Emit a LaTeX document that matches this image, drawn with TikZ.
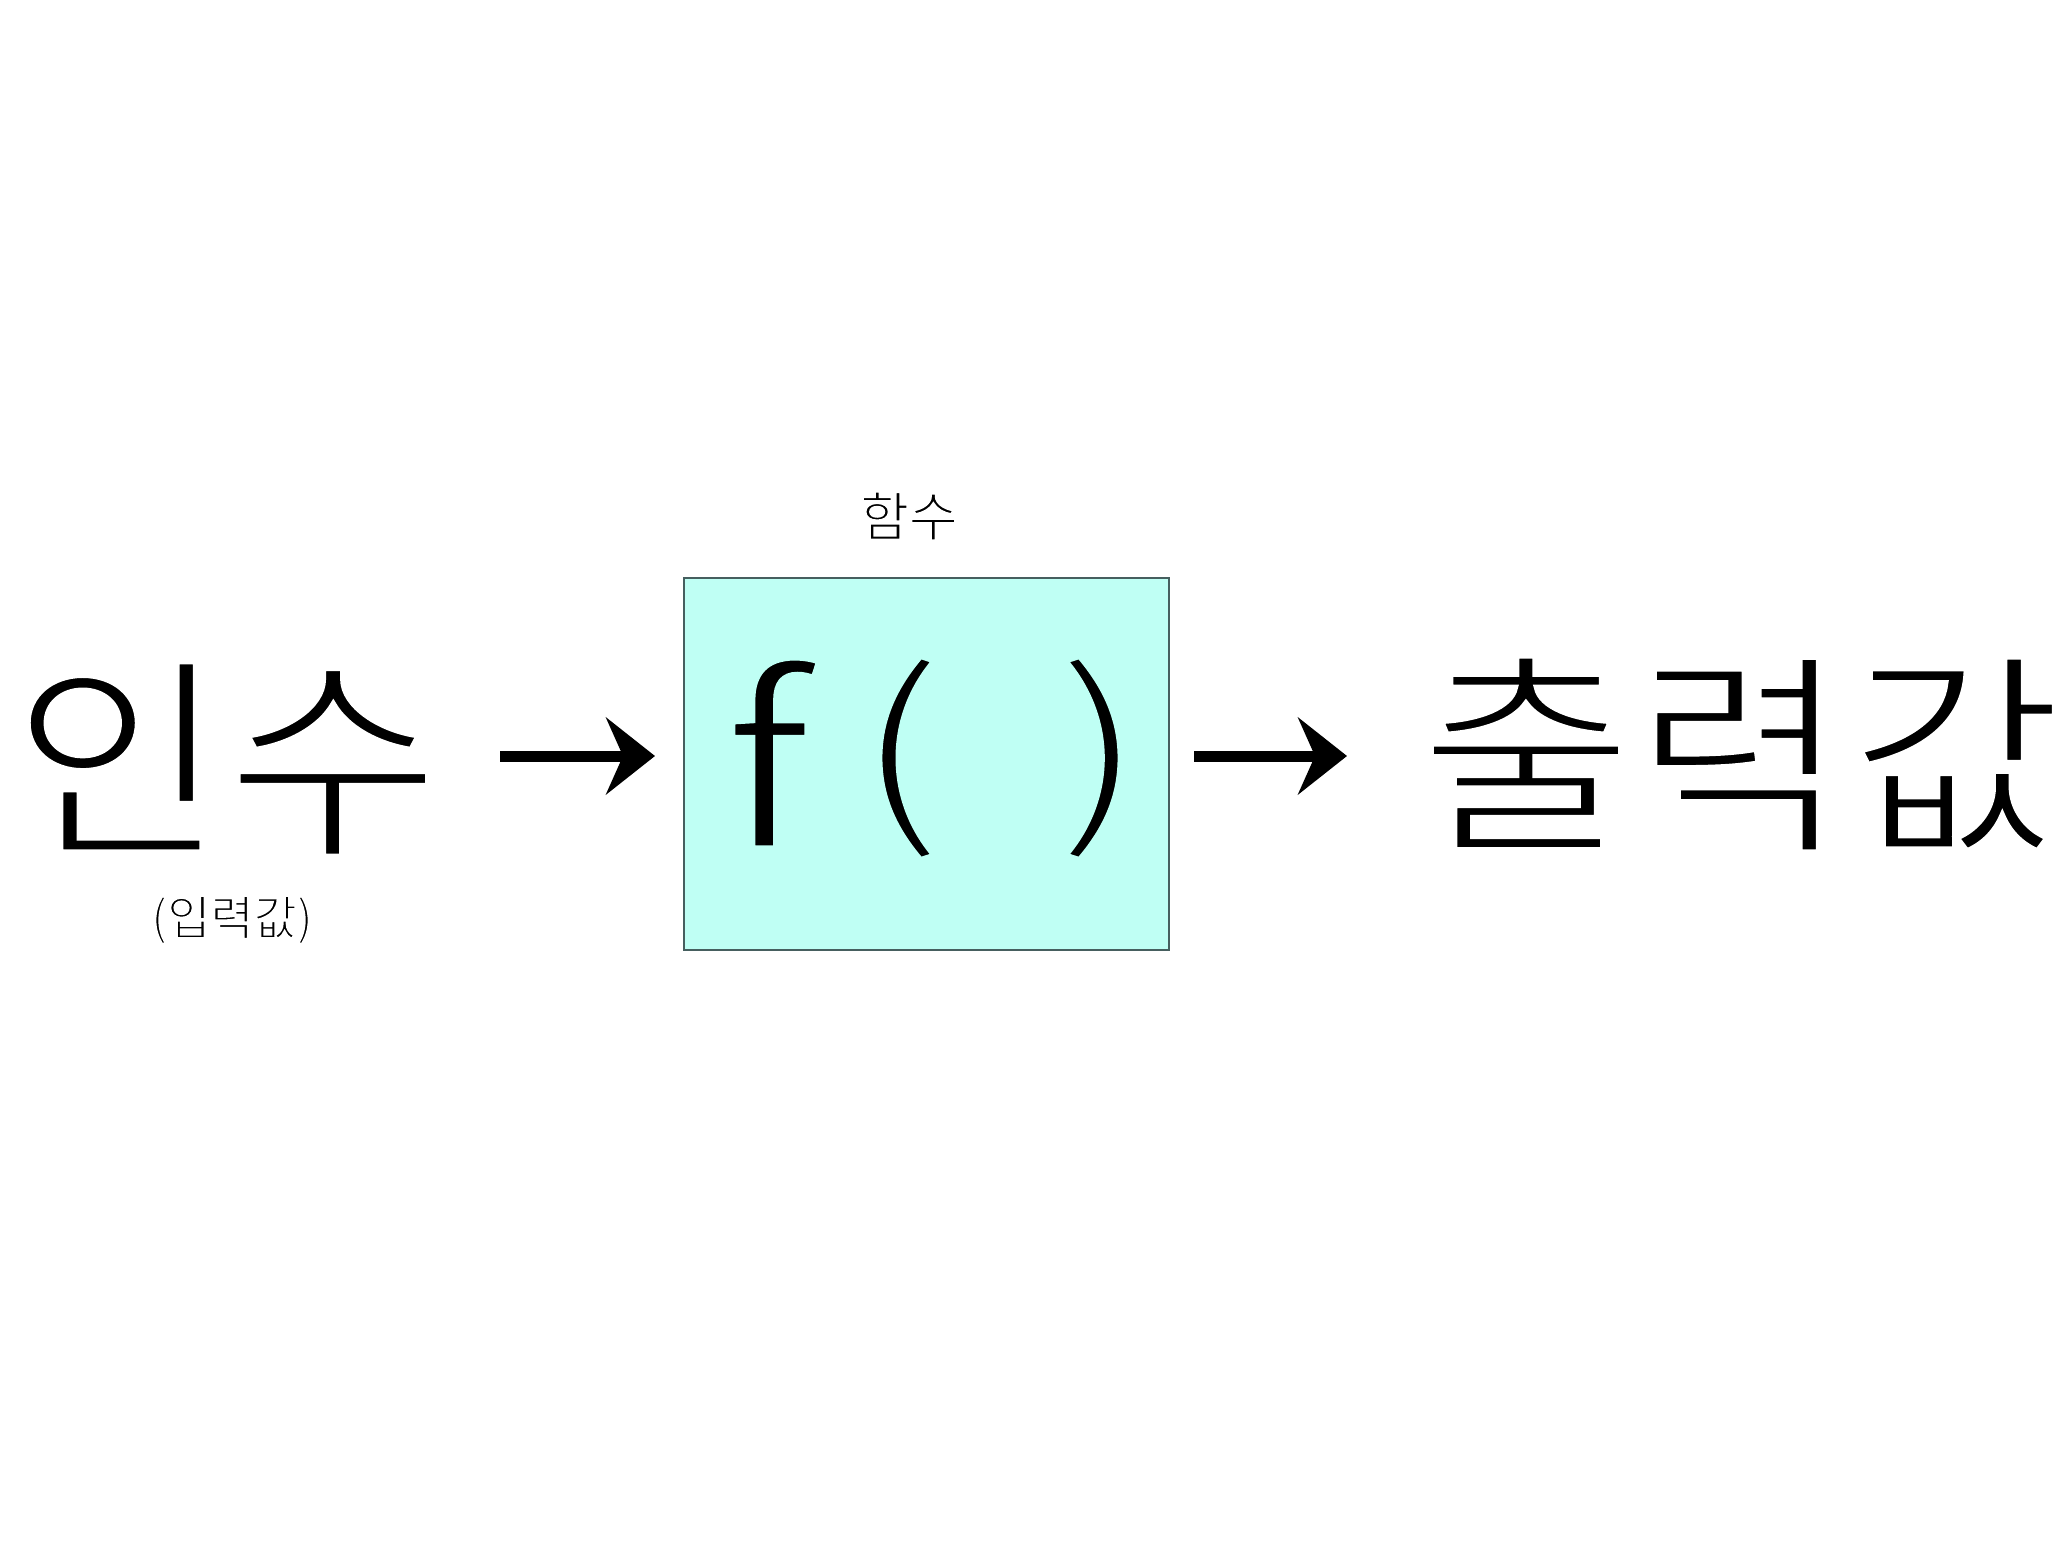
\documentclass[tikz,border=0pt]{standalone}
\usepackage{fontspec}
\setmainfont{Noto Sans CJK KR}
\newfontfamily\widekr[FakeStretch=1.08]{Noto Sans CJK KR}
\usetikzlibrary{arrows.meta}
\definecolor{boxfill}{RGB}{191,255,244}
\definecolor{boxline}{RGB}{70,95,95}
\newcommand\thinwhite[1]{\special{pdf:code q 2 Tr 1 1 1 RG 3 w}#1\special{pdf:code Q}}
\newcommand\thinwhitesmall[1]{\special{pdf:code q 2 Tr 1 1 1 RG 0.8 w}#1\special{pdf:code Q}}
\newcommand\thincyan[1]{\special{pdf:code q 2 Tr 0.749 1 0.957 RG 3 w}#1\special{pdf:code Q}}
\begin{document}
\begin{tikzpicture}[x=0.5pt,y=-0.5pt,
  txt/.style={inner sep=0pt, outer sep=0pt},
  bigtxt/.style={txt, font=\widekr\fontsize{108pt}{108pt}\selectfont},
  smalltxt/.style={txt, font=\fontsize{23.5pt}{23.5pt}\selectfont},
  labeltxt/.style={txt, font=\fontsize{26.5pt}{26.5pt}\selectfont},
  functxt/.style={txt, font=\fontsize{101pt}{101pt}\selectfont},
  ftxt/.style={txt, font=\fontsize{118pt}{118pt}\selectfont},
  funcbox/.style={draw=boxline, fill=boxfill, line width=1pt, inner sep=0pt,
    minimum width=242.5pt, minimum height=186pt, anchor=north west},
  arr/.style={line width=5.5pt, -{Stealth[length=24.5pt,width=38.5pt,inset=8.5pt]}}]
\useasboundingbox (0,0) rectangle (2070,1551);
\fill[white] (0,0) rectangle (2070,1551);

\node[funcbox] (box) at (683,577) {};
\node[labeltxt] (lab) at (909,516) {\thinwhitesmall{함수}};

\node[ftxt] (f) at (767,753) {\scalebox{1.15}[1]{\thincyan{f}}};
\node[functxt] (lp) at (900,758) {\scalebox{1.4}[1]{\thincyan{(}}};
\node[functxt] (rp) at (1100,758) {\scalebox{1.4}[1]{\thincyan{)}}};

\node[bigtxt] (in) at (226,759) {\thinwhite{인수}};
\node[smalltxt] (insub) at (232,920) {\thinwhitesmall{(입력값)}};
\node[bigtxt] (out) at (1741,754) {\thinwhite{출력값}};

\coordinate (a1s) at (500,756);
\coordinate (a2e) at (1347,756);
\draw[arr, shorten >=14pt] (a1s) -- (a1s -| box.west);
\draw[arr, shorten <=12pt] (box.east |- a2e) -- (a2e);
\end{tikzpicture}
\end{document}
